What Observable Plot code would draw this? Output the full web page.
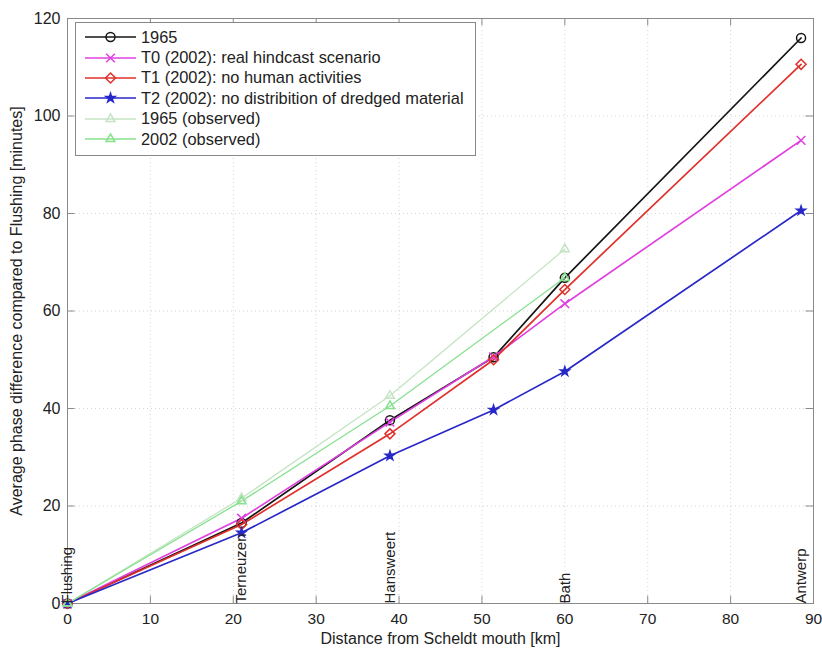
<!DOCTYPE html>
<html>
<head>
<meta charset="utf-8">
<script src="https://cdn.jsdelivr.net/npm/d3@7"></script>
<script src="https://cdn.jsdelivr.net/npm/@observablehq/plot@0.6"></script>
<style>
  html, body { margin: 0; padding: 0; background: #fff; }
  #wrap { position: relative; width: 822px; height: 653px; font-family: "Liberation Sans", Arial, sans-serif; }
  #legend { position: absolute; left: 75px; top: 22px; width: 401px; height: 134px; box-sizing: border-box;
            border: 1px solid #888; background: #fff; padding-top: 4px; }
  .row { height: 20.4px; display: flex; align-items: center; font-size: 16.4px; color: #222; white-space: nowrap; }
  .row svg { margin-left: 9px; margin-right: 5px; flex: none; }
</style>
</head>
<body>
<div id="wrap"><div id="legend"></div></div>
<script>
// ---- data ----
const km = [0, 21, 38.9, 51.4, 60, 88.5];
const s1965 = [0, 16.5, 37.6, 50.5, 66.8, 116];
const sT0 = [0, 17.5, 37.2, 50.6, 61.5, 95];
const sT1 = [0, 16.2, 34.8, 50, 64.4, 110.6];
const sT2 = [0, 14.5, 30.3, 39.7, 47.6, 80.6];
const kmObs = [0, 21, 38.9, 60];
const obs1965 = [0, 21.6, 42.6, 72.7];
const obs2002 = [0, 21, 40.5, 66.8];
const stations = ["Flushing", "Terneuzen", "Hansweert", "Bath", "Antwerp"];
const stationKm = [0, 21, 38.9, 60, 88.5];
const xTicks = [0, 10, 20, 30, 40, 50, 60, 70, 80, 90];
const yTicks = [0, 20, 40, 60, 80, 100, 120];
const seriesNames = ["1965", "T0 (2002): real hindcast scenario", "T1 (2002): no human activities",
  "T2 (2002): no distribition of dredged material", "1965 (observed)", "2002 (observed)"];

const series = [
  {name: seriesNames[0], x: km, y: s1965, color: "#151515", symbol: "circle", fill: "none", r: 4.5, w: 1.7},
  {name: seriesNames[1], x: km, y: sT0, color: "#e040e0", symbol: "times", fill: "none", r: 4, w: 1.7},
  {name: seriesNames[2], x: km, y: sT1, color: "#e0302c", symbol: "diamond2", fill: "none", r: 4.5, w: 1.7},
  {name: seriesNames[3], x: km, y: sT2, color: "#2828c8", symbol: "star", fill: "#2828c8", r: 2.8, w: 1.7},
  {name: seriesNames[4], x: kmObs, y: obs1965, color: "#c4e4c4", symbol: "triangle2", fill: "none", r: 4.2, w: 1.3},
  {name: seriesNames[5], x: kmObs, y: obs2002, color: "#86e08e", symbol: "triangle2", fill: "none", r: 4.2, w: 1.3}
];

const rowsOf = s => s.x.map((x, i) => ({x, y: s.y[i]}));
const stationRows = stations.map((name, i) => ({name, x: stationKm[i]}));
const axisColor = "#8a8a8a";

const marks = [
  Plot.gridX(xTicks, {stroke: "#d4d4d4", strokeOpacity: 1, strokeDasharray: "1,3"}),
  Plot.gridY(yTicks, {stroke: "#d4d4d4", strokeOpacity: 1, strokeDasharray: "1,3"}),
  Plot.frame({stroke: axisColor}),
  Plot.ruleX(xTicks, {x: d => d, y1: 0, y2: 1.5, stroke: axisColor}),
  Plot.ruleX(xTicks, {x: d => d, y1: 120, y2: 118.5, stroke: axisColor}),
  Plot.ruleY(yTicks, {y: d => d, x1: 0, x2: 0.9, stroke: axisColor}),
  Plot.ruleY(yTicks, {y: d => d, x1: 90, x2: 89.1, stroke: axisColor}),
  Plot.axisX(xTicks, {tickSize: 0, tickPadding: 9, fontSize: 15.5, label: null, fill: "#222"}),
  Plot.axisX({ticks: [], label: "Distance from Scheldt mouth [km]", labelAnchor: "center", labelOffset: 40, labelArrow: "none", fill: "#222"}),
  Plot.axisY(yTicks, {tickSize: 0, tickPadding: 7, label: "Average phase difference compared to Flushing [minutes]", labelAnchor: "center", labelOffset: 57, labelArrow: "none", fill: "#222"})
];
for (const s of series) {
  marks.push(Plot.line(rowsOf(s), {x: "x", y: "y", stroke: s.color, strokeWidth: s.w}));
}
for (const s of series) {
  marks.push(Plot.dot(rowsOf(s), {x: "x", y: "y", symbol: s.symbol, stroke: s.color, fill: s.fill, r: s.r, strokeWidth: 1.5}));
}
marks.push(Plot.text(stationRows, {x: "x", y: () => 0, text: "name", rotate: -90, textAnchor: "start", lineAnchor: "middle", dx: 0, fontSize: 15, fill: "#222"}));

const chart = Plot.plot({
  width: 822,
  height: 653,
  marginLeft: 67,
  marginRight: 9,
  marginTop: 18,
  marginBottom: 50,
  x: {domain: [0, 90]},
  y: {domain: [0, 120]},
  style: {fontFamily: '"Liberation Sans", Arial, sans-serif', fontSize: "16px", color: "#222", background: "#fff"},
  marks
});
const wrap = document.getElementById("wrap");
wrap.insertBefore(chart, wrap.firstChild);

// ---- legend ----
const symMap = {circle: d3.symbolCircle, times: d3.symbolTimes, diamond2: d3.symbolDiamond2, star: d3.symbolStar, triangle2: d3.symbolTriangle2};
const legend = d3.select("#legend");
for (const s of series) {
  const row = legend.append("div").attr("class", "row");
  const svg = row.append("svg").attr("width", 51).attr("height", 16);
  svg.append("line").attr("x1", 0).attr("x2", 51).attr("y1", 8).attr("y2", 8).attr("stroke", s.color).attr("stroke-width", s.w);
  svg.append("path").attr("transform", "translate(25.5,8)")
    .attr("d", d3.symbol().type(symMap[s.symbol]).size(Math.PI * s.r * s.r)())
    .attr("stroke", s.color).attr("fill", s.fill).attr("stroke-width", 1.5);
  row.append("span").text(s.name);
}
</script>
</body>
</html>
